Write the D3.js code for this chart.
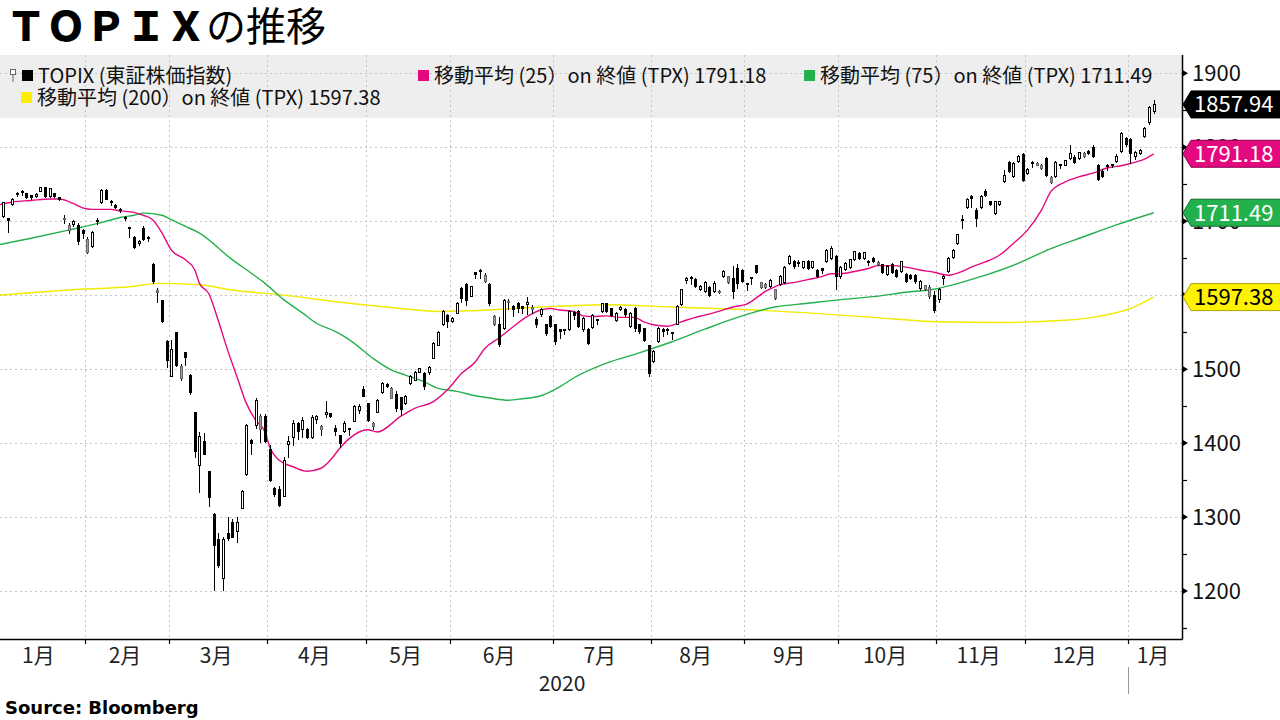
<!DOCTYPE html>
<html>
<head>
<meta charset="utf-8">
<script src="https://cdn.jsdelivr.net/npm/d3@7"></script>
<style>
body { margin: 0; background: #fff; }
svg { display: block; font-family: "Noto Sans CJK JP", "Noto Sans", sans-serif; }
</style>
</head>
<body>
<svg id="chart" width="1280" height="720"></svg>
<script>
// months on the x axis and how many trading days each one holds
var monthLabels = ["1月", "2月", "3月", "4月", "5月", "6月", "7月", "8月", "9月", "10月", "11月", "12月", "1月"];
var monthDays = [19, 18, 21, 21, 18, 22, 21, 20, 20, 21, 19, 22, 6];
var yearLabel = "2020";
var yTicks = [1200, 1300, 1400, 1500, 1600, 1700, 1800, 1900];

// daily candles [open, high, low, close]
var candles = [
  // Jan
  [1705,1708,1694,1697],[1706,1726,1704,1725],[1703,1705,1684,1701],[1723,1731,1721,1730],[1736,1739,1733,1737],
  [1740,1742,1734,1739],[1737,1738,1730,1732],[1735,1736,1729,1732],[1734,1738,1732,1736],[1740,1746,1739,1745],
  [1745,1746,1732,1733],[1733,1745,1731,1744],[1737,1738,1731,1734],[1732,1733,1727,1730],[1702,1709,1696,1703],
  [1688,1697,1683,1694],[1695,1701,1692,1699],[1694,1697,1668,1672],[1688,1690,1676,1684],
  // Feb
  [1658,1678,1655,1675],[1666,1687,1664,1685],[1700,1704,1695,1701],[1725,1743,1723,1742],[1742,1744,1729,1730],
  [1727,1729,1721,1725],[1721,1723,1716,1719],[1716,1718,1711,1714],[1705,1707,1700,1703],[1691,1692,1677,1690],
  [1678,1680,1662,1664],[1670,1674,1667,1672],[1690,1693,1673,1675],[1678,1680,1672,1676],[1641,1643,1615,1618],
  [1603,1610,1589,1606],[1593,1594,1562,1564],[1537,1539,1501,1512],
  // Mar
  [1490,1539,1489,1526],[1549,1550,1503,1505],[1488,1507,1484,1503],[1522,1523,1504,1516],[1492,1493,1465,1469],
  [1442,1442,1380,1388],[1370,1415,1332,1409],[1402,1414,1384,1384],[1361,1362,1314,1327],[1303,1305,1200,1262],
  [1269,1279,1231,1235],[1217,1273,1200,1269],[1278,1300,1268,1271],[1292,1298,1273,1273],[1280,1300,1265,1292],
  [1312,1336,1311,1334],[1357,1426,1356,1424],[1404,1406,1384,1400],[1424,1461,1419,1458],[1418,1440,1400,1436],
  [1436,1440,1400,1402],
  // Apr
  [1391,1397,1348,1350],[1339,1341,1327,1330],[1337,1342,1314,1316],[1328,1381,1327,1377],[1398,1410,1380,1402],
  [1408,1431,1396,1427],[1426,1429,1404,1415],[1418,1435,1407,1431],[1418,1420,1405,1407],[1408,1438,1405,1434],
  [1432,1438,1426,1436],[1418,1425,1410,1422],[1438,1457,1434,1442],[1440,1441,1434,1436],[1420,1424,1410,1415],
  [1410,1411,1394,1400],[1416,1430,1414,1427],[1420,1421,1410,1419],[1429,1451,1428,1449],[1444,1453,1440,1449],
  [1472,1477,1462,1463],
  // May
  [1454,1454,1429,1431],[1422,1428,1418,1427],[1442,1459,1441,1458],[1469,1483,1467,1481],[1479,1481,1474,1476],
  [1460,1476,1459,1474],[1466,1470,1442,1447],[1461,1462,1437,1445],[1454,1465,1451,1463],[1481,1492,1479,1490],
  [1485,1498,1484,1496],[1496,1502,1495,1501],[1494,1496,1472,1476],[1495,1504,1492,1502],[1515,1537,1514,1535],
  [1532,1551,1531,1549],[1560,1580,1558,1578],[1573,1575,1556,1564],
  // Jun
  [1564,1571,1562,1569],[1575,1591,1574,1589],[1609,1611,1589,1596],[1614,1616,1585,1593],[1598,1613,1597,1612],
  [1630,1631,1622,1628],[1634,1636,1622,1632],[1618,1630,1616,1626],[1614,1616,1586,1589],[1560,1573,1558,1571],
  [1560,1570,1530,1533],[1555,1595,1553,1593],[1590,1595,1580,1592],[1585,1587,1570,1581],[1589,1591,1576,1582],
  [1585,1586,1575,1582],[1587,1598,1573,1590],[1580,1587,1575,1584],[1567,1570,1556,1560],[1574,1582,1570,1580],
  [1560,1561,1545,1548],[1571,1573,1555,1558],
  // Jul
  [1560,1561,1533,1537],[1553,1554,1541,1551],[1552,1554,1546,1553],[1554,1580,1552,1578],[1577,1578,1567,1573],
  [1578,1580,1555,1557],[1553,1570,1550,1568],[1553,1555,1533,1535],[1556,1575,1554,1573],[1567,1568,1560,1566],
  [1578,1590,1576,1589],[1589,1590,1576,1578],[1582,1583,1570,1572],[1566,1577,1564,1575],[1580,1586,1578,1584],
  [1581,1582,1570,1574],[1557,1577,1555,1575],[1582,1584,1550,1555],[1560,1561,1548,1551],[1555,1556,1537,1539],
  [1532,1532,1490,1494],
  // Aug
  [1510,1526,1508,1524],[1537,1557,1535,1555],[1553,1555,1544,1551],[1552,1556,1546,1553],[1549,1550,1540,1548],
  [1561,1587,1559,1585],[1588,1609,1586,1607],[1620,1625,1615,1622],[1622,1626,1614,1624],[1621,1623,1610,1612],
  [1607,1614,1605,1612],[1605,1619,1603,1617],[1610,1612,1598,1600],[1605,1619,1603,1616],[1603,1607,1601,1605],
  [1625,1634,1623,1632],[1617,1626,1615,1625],[1623,1640,1595,1605],[1636,1642,1608,1616],[1634,1636,1616,1618],
  // Sep
  [1616,1617,1605,1615],[1624,1625,1614,1623],[1640,1641,1628,1630],[1610,1618,1608,1617],[1610,1617,1608,1615],
  [1612,1622,1610,1620],[1596,1608,1594,1607],[1615,1627,1613,1625],[1617,1639,1615,1637],[1643,1654,1641,1652],
  [1645,1647,1636,1639],[1643,1647,1638,1644],[1637,1646,1635,1645],[1646,1648,1634,1636],[1637,1646,1635,1645],
  [1634,1635,1623,1625],[1636,1637,1628,1634],[1646,1663,1644,1661],[1650,1666,1648,1663],[1652,1654,1607,1625],
  // Oct
  [1625,1640,1622,1638],[1635,1645,1633,1643],[1637,1649,1635,1648],[1648,1660,1646,1659],[1657,1659,1648,1650],
  [1649,1659,1647,1658],[1646,1647,1640,1645],[1650,1652,1643,1645],[1642,1646,1640,1644],[1641,1642,1628,1630],
  [1628,1641,1626,1639],[1641,1643,1628,1630],[1634,1636,1623,1625],[1632,1646,1630,1645],[1628,1630,1616,1618],
  [1627,1628,1620,1623],[1627,1628,1615,1618],[1609,1620,1606,1618],[1607,1614,1605,1613],[1598,1614,1595,1611],
  [1600,1605,1576,1579],
  // Nov
  [1594,1610,1590,1607],[1622,1627,1614,1625],[1632,1652,1630,1650],[1651,1663,1649,1661],[1670,1683,1668,1682],
  [1702,1708,1690,1701],[1718,1731,1716,1729],[1733,1735,1718,1731],[1715,1718,1692,1704],[1718,1735,1716,1733],
  [1740,1743,1733,1735],[1726,1728,1720,1722],[1711,1727,1709,1726],[1722,1728,1720,1726],[1754,1769,1752,1762],
  [1780,1782,1765,1767],[1761,1780,1759,1778],[1781,1790,1779,1788],[1790,1792,1753,1755],
  // Dec
  [1765,1772,1762,1770],[1780,1782,1772,1779],[1776,1780,1774,1778],[1771,1777,1769,1776],[1785,1787,1760,1762],
  [1752,1761,1750,1759],[1760,1782,1758,1780],[1777,1778,1770,1776],[1776,1783,1774,1782],[1785,1803,1783,1791],
  [1786,1789,1778,1779],[1785,1794,1783,1793],[1787,1793,1785,1792],[1794,1796,1789,1791],[1799,1803,1786,1787],
  [1775,1777,1755,1757],[1767,1770,1758,1760],[1775,1778,1768,1774],[1777,1778,1772,1777],[1781,1791,1779,1788],
  [1794,1820,1792,1819],[1812,1814,1801,1804],
  // Jan 2021
  [1810,1812,1778,1792],[1787,1795,1783,1793],[1791,1798,1789,1796],[1815,1827,1812,1826],[1833,1856,1830,1854],
  [1848,1864,1845,1857.94]
];

// moving averages: [trading day index, value]
var ma25 = [[0,1722],[3,1726],[7,1728],[11,1730],[13,1730],[16,1724],[18,1718],[20,1716],[24,1716],[26,1714],
  [29,1712],[31,1708],[33,1702],[35,1684],[37,1661],[40,1648],[42,1634],[43,1616],[45,1602],[47,1566],[49,1526],
  [51,1490],[53,1454],[55,1431],[57,1415],[58,1395],[60,1377],[63,1368],[66,1362],[69,1366],[71,1377],[73,1393],
  [75,1406],[79,1418],[81,1415],[86,1436],[89,1447],[93,1456],[96,1472],[99,1494],[102,1510],[104,1528],[107,1542],
  [110,1557],[113,1571],[116,1580],[118,1582],[120,1580],[123,1578],[125,1572],[127,1571],[130,1572],[133,1570],
  [136,1570],[138,1564],[140,1560],[143,1558],[146,1564],[149,1570],[151,1573],[154,1578],[157,1584],[160,1588],
  [164,1605],[167,1614],[170,1617],[173,1621],[176,1625],[178,1629],[180,1629],[183,1632],[186,1636],[188,1640],
  [191,1640],[194,1638],[197,1634],[200,1631],[203,1627],[206,1632],[208,1638],[211,1645],[214,1654],[217,1670],
  [220,1688],[223,1715],[225,1740],[228,1753],[231,1760],[234,1765],[237,1772],[240,1775],[242,1778],[245,1784],
  [247,1791.18]];
var ma75 = [[0,1668],[7,1677],[15,1688],[22,1698],[26,1705],[29,1708],[31,1711],[35,1708],[37,1702],[40,1693],
  [43,1684],[50,1648],[54,1630],[57,1616],[61,1594],[65,1576],[68,1562],[72,1551],[75,1540],[80,1515],[84,1499],
  [87,1492],[91,1483],[94,1474],[98,1470],[102,1464],[105,1461],[109,1458],[112,1460],[116,1464],[120,1476],
  [123,1488],[130,1508],[137,1522],[144,1537],[151,1554],[158,1570],[166,1584],[173,1589],[180,1594],[187,1598],
  [194,1604],[200,1608],[204,1614],[210,1625],[218,1643],[225,1663],[232,1679],[239,1695],[247,1711.49]];
var ma200 = [[0,1600],[15,1607],[29,1612],[34,1616],[43,1614],[50,1607],[61,1600],[75,1589],[86,1582],[94,1578],
  [101,1579],[116,1584],[130,1587],[144,1584],[158,1581],[173,1576],[187,1570],[201,1564],[214,1563],[228,1566],
  [235,1571],[242,1582],[247,1597.38]];

var seriesName = "TOPIX (東証株価指数)";
var maLabel = function(n) { return "移動平均 (" + n + "）on 終値 (TPX) "; };

var pink = "#e4097f", green = "#23b14d", yellow = "#fff200";
var fmt = d3.format(".2f");
var last = function(a) { return a[a.length - 1][1]; };

var svg = d3.select("#chart");
var plotL = 0, plotR = 1182, plotT = 55, plotB = 639;

var x = d3.scaleLinear().domain([0, 242]).range([-4, 1128]);
var y = d3.scaleLinear().domain([1200, 1900]).range([591, 73.3]);

svg.append("defs").append("clipPath").attr("id", "plotclip")
    .append("rect").attr("x", plotL).attr("y", plotT).attr("width", plotR - plotL).attr("height", plotB - plotT);

// legend band
svg.append("rect").attr("x", plotL).attr("y", plotT).attr("width", plotR - plotL).attr("height", 63)
    .attr("fill", "#eeeeee");

// month boundaries in trading days
var bounds = [0];
monthDays.forEach(function(d, i) { bounds.push(bounds[i] + d); });

// grid
svg.append("g").selectAll("line")
    .data(bounds.slice(1, monthDays.length))
    .enter().append("line")
    .attr("x1", function(d) { return Math.round(x(d)) + 0.5; })
    .attr("x2", function(d) { return Math.round(x(d)) + 0.5; })
    .attr("y1", plotT).attr("y2", plotB)
    .attr("stroke", "#c4c4c4").attr("stroke-dasharray", "2,3");

svg.append("g").selectAll("line")
    .data(yTicks)
    .enter().append("line")
    .attr("x1", plotL).attr("x2", plotR)
    .attr("y1", function(d) { return Math.round(y(d)) + 0.5; })
    .attr("y2", function(d) { return Math.round(y(d)) + 0.5; })
    .attr("stroke", "#c4c4c4").attr("stroke-dasharray", "2,3");

var plot = svg.append("g").attr("clip-path", "url(#plotclip)");

// moving averages
var line = d3.line()
    .x(function(d) { return x(d[0] + 0.5); })
    .y(function(d) { return y(d[1]); })
    .curve(d3.curveMonotoneX);

[[ma200, "#f2ea00"], [ma75, green], [ma25, pink]].forEach(function(s) {
    plot.append("path").datum(s[0]).attr("d", line)
        .attr("fill", "none").attr("stroke", s[1]).attr("stroke-width", 1.4);
});

// candles
var cg = plot.append("g").attr("shape-rendering", "crispEdges");

function bodyFill(d, i) {
    if (d[3] < d[0]) return "#000";
    var prev = i > 0 ? candles[i - 1][3] : d[3];
    return d[3] < prev ? "#9c9c9c" : "#fff";
}

cg.selectAll("line.wick")
    .data(candles)
    .enter().append("line")
    .attr("class", "wick")
    .attr("x1", function(d, i) { return Math.round(x(i + 0.5)) + 0.5; })
    .attr("x2", function(d, i) { return Math.round(x(i + 0.5)) + 0.5; })
    .attr("y1", function(d) { return y(d[1]); })
    .attr("y2", function(d) { return y(d[2]); })
    .attr("stroke", "#000").attr("stroke-width", 1);

cg.selectAll("rect.body")
    .data(candles)
    .enter().append("rect")
    .attr("class", "body")
    .attr("x", function(d, i) { return Math.round(x(i + 0.5)) - 1; })
    .attr("y", function(d) { return y(Math.max(d[0], d[3])); })
    .attr("width", 2)
    .attr("height", function(d) { return Math.max(1, Math.abs(y(d[0]) - y(d[3]))); })
    .attr("fill", bodyFill)
    .attr("stroke", function(d, i) { return bodyFill(d, i) === "#9c9c9c" ? "#666" : "#000"; })
    .attr("stroke-width", 1);

// axes
svg.append("line").attr("x1", plotL).attr("x2", plotR + 0.5).attr("y1", plotB + 0.5).attr("y2", plotB + 0.5)
    .attr("stroke", "#000").attr("stroke-width", 1.5);
svg.append("line").attr("x1", plotR + 0.5).attr("x2", plotR + 0.5).attr("y1", plotT).attr("y2", plotB + 0.5)
    .attr("stroke", "#000").attr("stroke-width", 1.5);

// month ticks and labels
svg.append("g").selectAll("line")
    .data(bounds.slice(1, monthDays.length))
    .enter().append("line")
    .attr("x1", function(d) { return Math.round(x(d)) + 0.5; })
    .attr("x2", function(d) { return Math.round(x(d)) + 0.5; })
    .attr("y1", plotB).attr("y2", plotB + 5)
    .attr("stroke", "#000").attr("stroke-width", 1.2);

svg.append("g").selectAll("text")
    .data(monthLabels)
    .enter().append("text")
    .attr("x", function(d, k) {
        var x1 = k === monthLabels.length - 1 ? plotR : x(bounds[k + 1]);
        return (x(bounds[k]) + x1) / 2 - 2;
    })
    .attr("y", 663)
    .attr("text-anchor", "middle")
    .attr("font-size", 21).attr("fill", "#222")
    .text(function(d) { return d; });

svg.append("text")
    .attr("x", (x(bounds[0]) + x(bounds[12])) / 2)
    .attr("y", 691)
    .attr("text-anchor", "middle")
    .attr("font-size", 21).attr("fill", "#222")
    .text(yearLabel);

svg.append("line")
    .attr("x1", Math.round(x(bounds[12])) + 0.5).attr("x2", Math.round(x(bounds[12])) + 0.5)
    .attr("y1", 667).attr("y2", 694)
    .attr("stroke", "#999").attr("stroke-width", 1);

// right axis ticks
var yg = svg.append("g");
yg.selectAll("path.major")
    .data(yTicks)
    .enter().append("path")
    .attr("d", function(d) {
        var yy = y(d);
        return "M" + plotR + "," + (yy - 3.5) + "L" + (plotR + 6) + "," + yy + "L" + plotR + "," + (yy + 3.5) + "Z";
    })
    .attr("fill", "#000");
yg.selectAll("line.minor")
    .data(yTicks.map(function(v) { return v - 50; }))
    .enter().append("line")
    .attr("x1", plotR).attr("x2", plotR + 5)
    .attr("y1", function(d) { return Math.round(y(d)) + 0.5; })
    .attr("y2", function(d) { return Math.round(y(d)) + 0.5; })
    .attr("stroke", "#000").attr("stroke-width", 1.2);
yg.selectAll("text")
    .data(yTicks)
    .enter().append("text")
    .attr("x", 1192)
    .attr("y", function(d) { return y(d) + 8; })
    .attr("font-size", 22).attr("fill", "#111")
    .text(function(d) { return d; });

// last value tags
var tags = [
    { v: last(ma200), fill: yellow, stroke: "#a9a000", color: "#000" },
    { v: last(ma75), fill: green, stroke: "#0d6b28", color: "#fff" },
    { v: last(ma25), fill: pink, stroke: "#8c0050", color: "#fff" },
    { v: candles[candles.length - 1][3], fill: "#000", stroke: "#000", color: "#fff" }
];
var tg = svg.append("g").selectAll("g").data(tags).enter().append("g");
tg.append("path")
    .attr("d", function(d) {
        var cy = y(d.v), h = 13.5;
        return "M1183," + cy + "L1191," + (cy - h) + "L1281," + (cy - h) + "L1281," + (cy + h) +
            "L1191," + (cy + h) + "Z";
    })
    .attr("fill", function(d) { return d.fill; })
    .attr("stroke", function(d) { return d.stroke; })
    .attr("stroke-width", 1);
tg.append("text")
    .attr("x", 1194)
    .attr("y", function(d) { return y(d.v) + 8; })
    .attr("font-size", 22)
    .attr("fill", function(d) { return d.color; })
    .text(function(d) { return fmt(d.v); });

// legend
var lg = svg.append("g").attr("font-size", 20).attr("fill", "#111");
lg.append("rect").attr("x", 10.5).attr("y", 69.5).attr("width", 5).attr("height", 5)
    .attr("fill", "#fff").attr("stroke", "#666");
lg.append("line").attr("x1", 13).attr("x2", 13).attr("y1", 74.5).attr("y2", 82)
    .attr("stroke", "#666");
lg.append("rect").attr("x", 22).attr("y", 70).attr("width", 11).attr("height", 11).attr("fill", "#000");
lg.append("text").attr("x", 38).attr("y", 83).text(seriesName);

var legendItems = [
    { color: pink, text: maLabel(25) + fmt(last(ma25)), x: 418, y: 70 },
    { color: green, text: maLabel(75) + fmt(last(ma75)), x: 804, y: 70 },
    { color: "#ffee00", text: maLabel(200) + fmt(last(ma200)), x: 21, y: 92 }
];
legendItems.forEach(function(d) {
    lg.append("rect").attr("x", d.x).attr("y", d.y).attr("width", 11).attr("height", 11).attr("fill", d.color);
    lg.append("text").attr("x", d.x + 16).attr("y", d.y + 13).text(d.text);
});

// title and source
var title = svg.append("text").attr("x", 6).attr("y", 41).attr("font-size", 40).attr("fill", "#000");
title.append("tspan").attr("font-weight", 900).text("ＴＯＰＩＸ");
title.append("tspan").attr("font-weight", 400).text("の推移");

svg.append("text").attr("x", 5).attr("y", 714)
    .attr("font-family", "DejaVu Sans, sans-serif")
    .attr("font-size", 18).attr("font-weight", "bold").attr("fill", "#000")
    .text("Source: Bloomberg");
</script>
</body>
</html>
